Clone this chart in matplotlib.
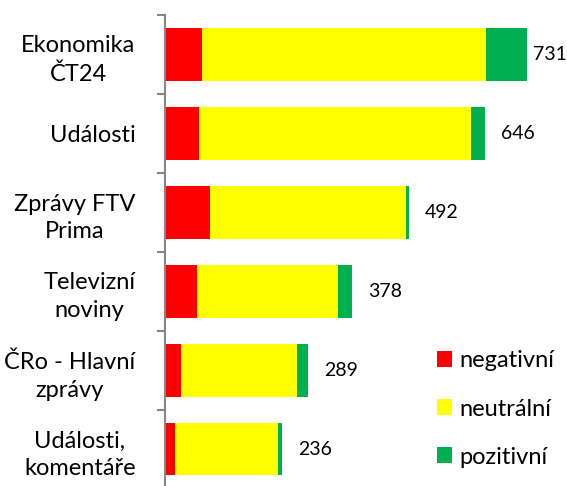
import matplotlib
matplotlib.use("Agg")
import matplotlib.pyplot as plt
import numpy as np

plt.rcParams['font.family'] = ['Lato', 'DejaVu Sans']

# data
stations = ['Ekonomika\nČT24', 'Události', 'Zprávy FTV\nPrima', 'Televizní\nnoviny',
            'ČRo - Hlavní\nzprávy', 'Události,\nkomentáře']
negativni = [76, 69, 91, 65, 32, 21]
neutralni = [571, 549, 395, 285, 235, 208]
pozitivni = [84, 28, 6, 28, 22, 7]
totals = [731, 646, 492, 378, 289, 236]

fig = plt.figure(figsize=(5.67, 4.86), dpi=100)
ax = fig.add_axes([0.2905, -0.006, 0.70, 0.975])

y = np.arange(len(stations))
neg = np.array(negativni)
neu = np.array(neutralni)
pos = np.array(pozitivni)

ax.barh(y, neg, height=0.66, color='#FF0000', label='negativní')
ax.barh(y, neu, left=neg, height=0.66, color='#FFFF00', label='neutrální')
ax.barh(y, pos, left=neg + neu, height=0.66, color='#00B050', label='pozitivní')

# value labels right of the bars, kept inside the plot area
for yi, t in zip(y, totals):
    ax.text(min(t + 32, 742), yi, str(t), va='center', ha='left', fontsize=14)

ax.set_xlim(0, 800)
ax.set_ylim(len(stations) - 0.5, -0.5)

ax.set_yticks(y)
ax.set_yticklabels(stations, fontsize=17, linespacing=1.4)
for lbl in ax.get_yticklabels():
    lbl.set_multialignment('center')
ax.tick_params(axis='y', which='major', length=0, pad=21)
ax.set_yticks(np.arange(-0.5, len(stations), 1), minor=True)
ax.tick_params(axis='y', which='minor', length=6, width=1.5, color='#868686')
ax.set_xticks([])

for s in ['top', 'right', 'bottom']:
    ax.spines[s].set_visible(False)
ax.spines['left'].set_color('#868686')
ax.spines['left'].set_linewidth(1.5)

ax.legend(loc='center left', bbox_to_anchor=(437 / 567, 1 - 409 / 486),
          bbox_transform=fig.transFigure, frameon=False, fontsize=17,
          handlelength=0.65, handleheight=0.65, handletextpad=0.3,
          labelspacing=1.15, borderpad=0, borderaxespad=0)

fig.savefig('out.png', dpi=100)
